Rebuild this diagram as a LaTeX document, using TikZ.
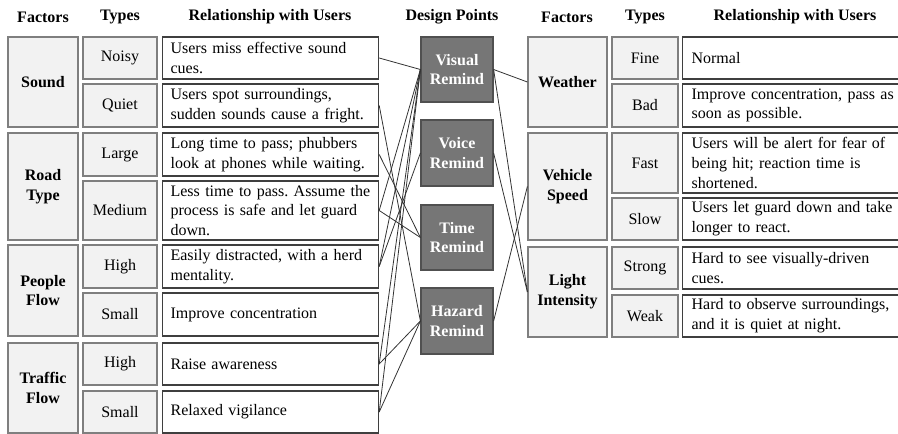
\documentclass[tikz,border=0pt]{standalone}
\usepackage{fontspec}
\setmainfont{Liberation Serif}
\definecolor{facfill}{HTML}{F2F2F2}
\definecolor{facborder}{HTML}{7F7F7F}
\definecolor{relborder}{HTML}{3F3F3F}
\definecolor{dpfill}{HTML}{767676}
\definecolor{dpborder}{HTML}{505050}
\definecolor{linkc}{HTML}{333333}
\newcommand\fsz{\fontsize{16.0}{19.8}\selectfont\frenchspacing}
\newcommand\ml[1]{\mbox{#1}}
\begin{document}
\begin{tikzpicture}[x=1pt,y=-1pt,
  fac/.style={draw=facborder, fill=facfill, line width=1.2pt, font=\fsz\bfseries, align=center, inner sep=0pt},
  typ/.style={draw=facborder, fill=facfill, line width=1.2pt, font=\fsz, inner sep=0pt},
  rel/.style={draw=relborder, fill=white, line width=1.2pt, font=\fsz, align=left, anchor=west, inner xsep=8pt, inner ysep=0pt, text width=200pt},
  relr/.style={rel, inner xsep=9pt, text width=210pt},
  dp/.style={draw=dpborder, fill=dpfill, line width=1.2pt, text=white, font=\fsz\bfseries, align=center, inner sep=0pt, minimum width=72pt},
  hd/.style={font=\fsz\bfseries, inner sep=0pt},
  link/.style={draw=linkc, line width=0.8pt}]
\useasboundingbox (0,0) rectangle (898,434);
\clip (0,0) rectangle (898,434);
% headers
\node[hd] (h1) at (43,17) {Factors};
\node[hd] (h2) at (120,17) {Types};
\node[hd] (h3) at (270,17) {Relationship with Users};
\node[hd] (h4) at (452,17) {Design Points};
\node[hd] (h5) at (567,17) {Factors};
\node[hd] (h6) at (645,17) {Types};
\node[hd] (h7) at (795,17) {Relationship with Users};
% left factors
\node[fac, minimum width=70pt, minimum height=90pt] (f1) at (43,82) {Sound};
\node[fac, minimum width=70pt, minimum height=107pt] (f2) at (43,186.5) {Road\\Type};
\node[fac, minimum width=70pt, minimum height=91pt] (f3) at (43,290.5) {People\\Flow};
\node[fac, minimum width=70pt, minimum height=90pt] (f4) at (43,388) {Traffic\\Flow};
% left types
\node[typ, minimum width=74pt, minimum height=42pt] (t1) at (120,58) {Noisy};
\node[typ, minimum width=74pt, minimum height=43pt] (t2) at (120,105.5) {Quiet};
\node[typ, minimum width=74pt, minimum height=43pt] (t3) at (120,154.5) {Large};
\node[typ, minimum width=74pt, minimum height=59pt] (t4) at (120,210.5) {Medium};
\node[typ, minimum width=74pt, minimum height=43pt] (t5) at (120,266.5) {High};
\node[typ, minimum width=74pt, minimum height=43pt] (t6) at (120,314.5) {Small};
\node[typ, minimum width=74pt, minimum height=42pt] (t7) at (120,364) {High};
\node[typ, minimum width=74pt, minimum height=42pt] (t8) at (120,412) {Small};
% left relationships
\node[rel, minimum height=42pt] (r1) at (162,58) {\ml{Users miss effective sound}\\\ml{cues.}};
\node[rel, minimum height=43pt] (r2) at (162,105.5) {\ml{Users spot surroundings,}\\\ml{sudden sounds cause a fright.}};
\node[rel, minimum height=43pt] (r3) at (162,154.5) {\ml{Long time to pass; phubbers}\\\ml{look at phones while waiting.}};
\node[rel, minimum height=59pt] (r4) at (162,210.5) {\ml{Less time to pass. Assume the}\\\ml{process is safe and let guard}\\\ml{down.}};
\node[rel, minimum height=43pt] (r5) at (162,266.5) {\ml{Easily distracted, with a herd}\\\ml{mentality.}};
\node[rel, minimum height=43pt] (r6) at (162,314.5) {Improve concentration};
\node[rel, minimum height=42pt] (r7) at (162,364) {Raise awareness};
\node[rel, minimum height=42pt] (r8) at (162,412) {Relaxed vigilance};
% design points
\node[dp, minimum height=65pt] (d1) at (457,69.5) {Visual\\Remind};
\node[dp, minimum height=66pt] (d2) at (457,153) {Voice\\Remind};
\node[dp, minimum height=65pt] (d3) at (457,237.5) {Time\\Remind};
\node[dp, minimum height=66pt] (d4) at (457,321) {Hazard\\Remind};
% right factors
\node[fac, minimum width=79pt, minimum height=90pt] (F1) at (567.5,82) {Weather};
\node[fac, minimum width=79pt, minimum height=107pt] (F2) at (567.5,186.5) {Vehicle\\Speed};
\node[fac, minimum width=79pt, minimum height=90pt] (F3) at (567.5,292) {Light\\Intensity};
% right types
\node[typ, minimum width=66pt, minimum height=42pt] (T1) at (645,58) {Fine};
\node[typ, minimum width=66pt, minimum height=43pt] (T2) at (645,105.5) {Bad};
\node[typ, minimum width=66pt, minimum height=60pt] (T3) at (645,163) {Fast};
\node[typ, minimum width=66pt, minimum height=42pt] (T4) at (645,219) {Slow};
\node[typ, minimum width=66pt, minimum height=42pt] (T5) at (645,268) {Strong};
\node[typ, minimum width=66pt, minimum height=42pt] (T6) at (645,316) {Weak};
% right relationships
\node[relr, minimum height=42pt] (R1) at (682,58) {Normal};
\node[relr, minimum height=43pt] (R2) at (682,105.5) {\ml{Improve concentration, pass as}\\\ml{soon as possible.}};
\node[relr, minimum height=60pt] (R3) at (682,163) {\ml{Users will be alert for fear of}\\\ml{being hit; reaction time is}\\\ml{shortened.}};
\node[relr, minimum height=42pt] (R4) at (682,219) {\ml{Users let guard down and take}\\\ml{longer to react.}};
\node[relr, minimum height=42pt] (R5) at (682,268) {\ml{Hard to see visually-driven}\\\ml{cues.}};
\node[relr, minimum height=42pt] (R6) at (682,316) {\ml{Hard to observe surroundings,}\\\ml{and it is quiet at night.}};
% connectors left
\draw[link] (r1.east) -- (d1.west);
\draw[link] (r2.east) -- (d4.west);
\draw[link] (r3.east) -- (d3.west);
\draw[link] (r4.east) -- (d3.west);
\draw[link] (r4.east) -- (d1.west);
\draw[link] (r5.east) -- (d1.west);
\draw[link] (r5.east) -- (d2.west);
\draw[link] (r7.east) -- (d1.west);
\draw[link] (r7.east) -- (d4.west);
\draw[link] (r8.east) -- (d1.west);
\draw[link] (r8.east) -- (d4.west);
% connectors right
\draw[link] (d1.east) -- (F1.west);
\draw[link] (d1.east) -- (F3.west);
\draw[link] (d2.east) -- (F3.west);
\draw[link] (d4.east) -- (F2.west);
\end{tikzpicture}
\end{document}
